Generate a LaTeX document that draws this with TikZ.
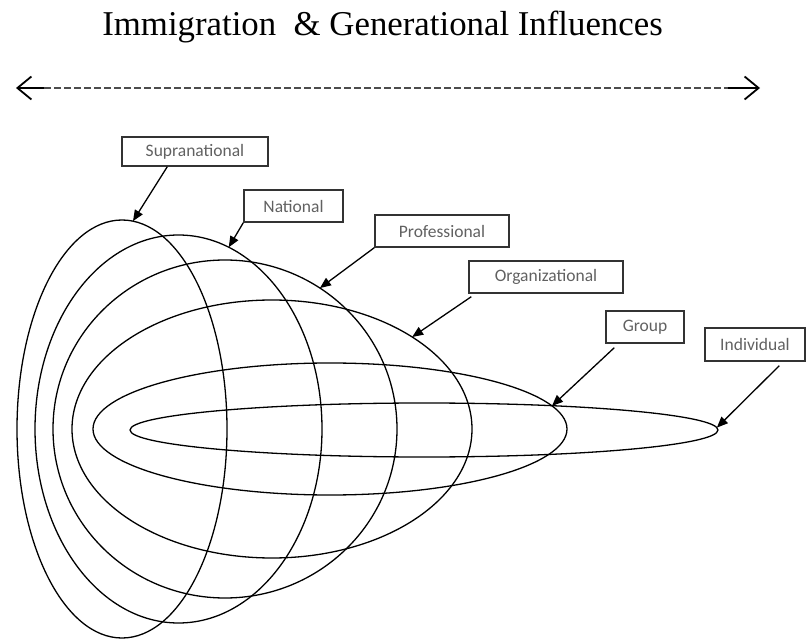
\documentclass[tikz,border=0pt]{standalone}
\usepackage{fontspec}
\setmainfont{Liberation Serif}
\newfontfamily\labelfont{Carlito}
\usetikzlibrary{arrows.meta,calc}
\begin{document}
\begin{tikzpicture}[x=1pt,y=-1pt,
  ring/.style={line width=1.3pt},
  tag/.style={draw=black!80,line width=1.4pt,inner sep=0pt,
    font=\labelfont\fontsize{17.5}{19}\selectfont,text=black!62},
  pointer/.style={line width=1.3pt,-{Triangle[length=11pt,width=9pt]}},
  barb/.style={line width=1.8pt},
  timedash/.style={line width=1.6pt,black!70,dash pattern=on 6.5pt off 3.5pt}
]
\useasboundingbox (0,0) rectangle (812,639);

% heading
\node[anchor=base,font=\fontsize{34.8}{40}\selectfont] (title) at (382.5,36)
  {Immigration\hspace{0.5em}\& Generational Influences};

% double-headed dashed time line
\coordinate (tl) at (16,88);
\coordinate (tlj) at (44,88);
\coordinate (trj) at (728,88);
\coordinate (tr) at (760,88);
\draw[barb,{Straight Barb[length=14pt,width=23pt]}-] (tl) -- (tlj);
\draw[barb,-{Straight Barb[length=14pt,width=23pt]}] (trj) -- (tr);
\draw[timedash] (tlj) -- (trj);

% nested levels
\coordinate (e1) at (122,429);
\coordinate (e2) at (178.5,429);
\coordinate (e3) at (225,429);
\coordinate (e4) at (272,429);
\coordinate (e5) at (330,429);
\coordinate (e6) at (424,430);
\draw[ring] (e1) ellipse [x radius=105,y radius=209];
\draw[ring] (e2) ellipse [x radius=143.5,y radius=194];
\draw[ring] (e3) ellipse [x radius=172,y radius=169];
\draw[ring] (e4) ellipse [x radius=200,y radius=129];
\draw[ring] (e5) ellipse [x radius=237,y radius=66];
\draw[ring] (e6) ellipse [x radius=294,y radius=27];

% labels
\node[tag,minimum width=146pt,minimum height=29pt] (sup) at (195,151.5) {Supranational};
\node[tag,minimum width=99pt,minimum height=32pt] (nat) at (293.5,206) {National};
\node[tag,minimum width=134pt,minimum height=32pt] (pro) at (442,231) {Professional};
\node[tag,minimum width=154pt,minimum height=32pt] (org) at (546,277) {Organizational};
\node[tag,minimum width=78pt,minimum height=32pt] (grp) at (645,327) {Group};
\node[tag,minimum width=100pt,minimum height=33pt] (ind) at (755,344.5) {Individual};

% pointers onto the level outlines
\draw[pointer] ([xshift=46pt]sup.south west) -- ($(e1)+(-84:105 and 209)$);
\draw[pointer] (nat.south west) -- ($(e2)+(-69.5:143.5 and 194)$);
\draw[pointer] (pro.south west) -- ($(e3)+(-56.5:172 and 169)$);
\draw[pointer] ([xshift=3pt,yshift=-3pt]org.south west) -- ($(e4)+(-45.5:200 and 129)$);
\draw[pointer] ([xshift=9pt,yshift=-4pt]grp.south west) -- ($(e5)+(-20.5:237 and 66)$);
\draw[pointer] ([xshift=75pt,yshift=-4pt]ind.south west) -- ($(e6)+(-5:294 and 27)$);
\end{tikzpicture}
\end{document}
